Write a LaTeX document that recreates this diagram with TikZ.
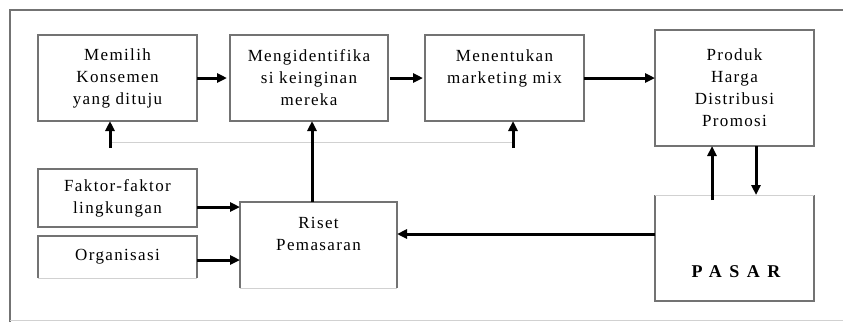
\documentclass[tikz,border=0pt]{standalone}
\usepackage{fontspec}
\setmainfont{Liberation Serif}[LetterSpace=8]
\usetikzlibrary{arrows.meta,calc}
\definecolor{boxgray}{gray}{0.45}
\definecolor{faintgray}{gray}{0.82}
\begin{document}
\begin{tikzpicture}[x=1pt,y=-1pt,
  box/.style={draw=boxgray, line width=1.5pt, align=center, inner sep=0pt, outer sep=0pt,
    font=\fontsize{17}{22}\selectfont},
  openbox/.style={align=center, inner sep=0pt, outer sep=0pt,
    font=\fontsize{17}{22}\selectfont},
  side/.style={draw=boxgray, line width=1.5pt},
  faint/.style={draw=faintgray, line width=1pt},
  arr/.style={line width=3pt, -{Triangle[length=10pt,width=9pt]}}
]
\useasboundingbox (0,0) rectangle (843,322);

% outer frame
\draw[boxgray, line width=1.5pt] (10,322) -- (10,10) -- (843,10);
\draw[faint] (10,320.5) -- (843,320.5);

% top row
\node[box, minimum width=159pt, minimum height=86pt] (mem) at (117.5,78)
  {Memilih\\Konsemen\\yang dituju};
\node[box, minimum width=158pt, minimum height=86pt] (ident) at (309,78)
  {Mengidentifika\\si keinginan\\mereka};
\node[box, minimum width=159pt, minimum height=86pt] (ment) at (504.5,78)
  {Menentukan\\marketing mix\\~};
\node[box, minimum width=159pt, minimum height=116pt] (prod) at (734.5,88)
  {Produk\\Harga\\Distribusi\\Promosi};

% lower row
\node[box, minimum width=159pt, minimum height=58pt] (faktor) at (117.5,198)
  {Faktor-faktor\\lingkungan};
\node[openbox, minimum width=159pt, minimum height=42pt] (org) at (117.5,257)
  {Organisasi};
\draw[side] (org.south west) -- (org.north west) -- (org.north east) -- (org.south east);
\draw[faint] (org.south west) -- (org.south east);

\node[openbox, minimum width=157pt, minimum height=86pt] (riset) at (318.5,245)
  {Riset\\Pemasaran\\~};
\draw[side] (riset.south west) -- (riset.north west) -- (riset.north east) -- (riset.south east);
\draw[faint] (riset.south west) -- (riset.south east);

\node[openbox, minimum width=159pt, minimum height=106pt] (pasar) at (734.5,248) {};
\draw[side] (pasar.north west) -- (pasar.south west) -- (pasar.south east) -- (pasar.north east);
\draw[faint] (pasar.north west) -- (pasar.north east);
\node[font=\fontsize{18}{22}\selectfont\bfseries\addfontfeature{LetterSpace=42}]
  (pasartext) at (736,272) {PASAR};

% arrows along the top row
\draw[arr, shorten >=3pt] (mem.east) -- (ident.west);
\draw[arr, shorten >=2pt, shorten <=2pt] (ident.east) -- (ment.west);
\draw[arr] (ment.east) -- (prod.west |- ment.east);

% feedback line under the top row
\coordinate (fbL) at (110,142);
\coordinate (fbR) at (513,142);
\coordinate (fbLlow) at (110,148);
\coordinate (fbRlow) at (513,148);
\draw[faint] (fbL) -- (fbR);
\draw[arr] (fbLlow) -- (fbL |- mem.south);
\draw[arr] (fbRlow) -- (fbR |- ment.south);

% research feeds the middle box
\coordinate (rx) at (312,0);
\draw[arr] (rx |- riset.north) -- (rx |- ident.south);

% inputs into research
\coordinate (fkOut) at (197,207);
\coordinate (orOut) at (197,260);
\draw[arr] (fkOut) -- (fkOut -| riset.west);
\draw[arr] (orOut) -- (orOut -| riset.west);

% market links
\coordinate (psOut) at (655,234);
\coordinate (upx) at (712,200);
\coordinate (dnx) at (756,0);
\draw[arr] (psOut) -- (psOut -| riset.east);
\draw[arr] (upx) -- (upx |- prod.south);
\draw[arr] (dnx |- prod.south) -- (dnx |- pasar.north);
\end{tikzpicture}
\end{document}
